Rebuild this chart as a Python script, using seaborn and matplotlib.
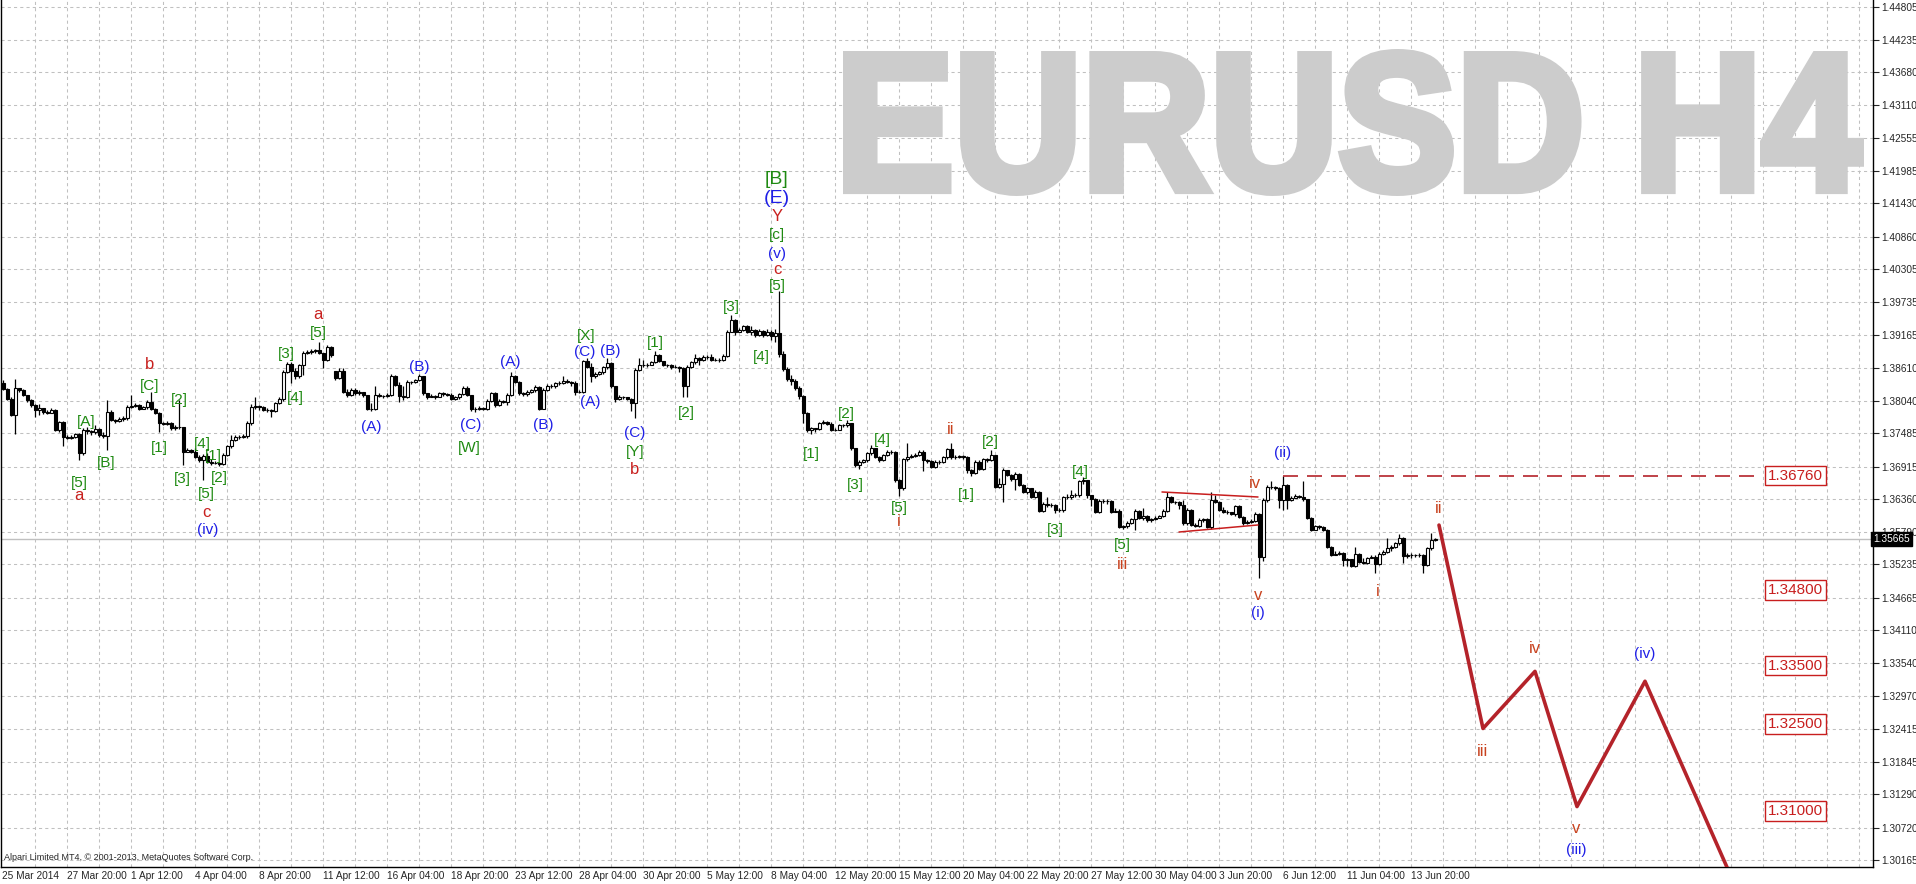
import numpy as np
import pandas as pd
import matplotlib
matplotlib.use('Agg')
import matplotlib.pyplot as plt
import seaborn as sns
from matplotlib.textpath import TextPath
from matplotlib.font_manager import FontProperties
from matplotlib.patches import PathPatch
from matplotlib.transforms import Affine2D, IdentityTransform

# EURUSD H4 bars, prices in pips (1.3824 -> 13824); bar 0 = 25 Mar 2014 04:00
first_open = 13834
closes = [
    13824, 13808, 13780, 13826, 13823, 13814, 13806, 13797, 13788, 13792, 13785, 13784, 13789, 13754, 13768, 13743, 13741, 13742, 13747, 13714,
    13754, 13752, 13750, 13756, 13745, 13744, 13785, 13771, 13769, 13773, 13774, 13794, 13795, 13797, 13791, 13793, 13803, 13791, 13784, 13766,
    13765, 13767, 13757, 13760, 13759, 13717, 13720, 13717, 13708, 13703, 13710, 13700, 13697, 13698, 13696, 13711, 13726, 13737, 13743, 13742,
    13744, 13766, 13794, 13795, 13793, 13788, 13789, 13787, 13800, 13807, 13854, 13867, 13855, 13846, 13866, 13886, 13888, 13889, 13891, 13886,
    13874, 13897, 13883, 13843, 13856, 13820, 13814, 13823, 13817, 13819, 13814, 13791, 13790, 13814, 13813, 13812, 13814, 13847, 13831, 13812,
    13810, 13837, 13836, 13840, 13846, 13817, 13811, 13813, 13811, 13817, 13816, 13815, 13808, 13810, 13816, 13826, 13814, 13790, 13791, 13792,
    13791, 13804, 13817, 13797, 13804, 13803, 13814, 13846, 13837, 13817, 13816, 13820, 13822, 13828, 13791, 13823, 13830, 13829, 13834, 13834,
    13838, 13837, 13834, 13820, 13820, 13872, 13863, 13846, 13851, 13853, 13862, 13869, 13829, 13808, 13811, 13810, 13808, 13800, 13857, 13866,
    13865, 13866, 13870, 13883, 13872, 13866, 13865, 13862, 13863, 13861, 13829, 13863, 13870, 13877, 13874, 13880, 13879, 13874, 13875, 13874,
    13881, 13923, 13943, 13923, 13926, 13932, 13923, 13925, 13918, 13924, 13918, 13922, 13915, 13920, 13885, 13858, 13842, 13838, 13826, 13812,
    13783, 13754, 13757, 13756, 13766, 13768, 13765, 13754, 13755, 13763, 13762, 13766, 13723, 13694, 13700, 13702, 13714, 13723, 13708, 13703,
    13711, 13717, 13716, 13668, 13654, 13704, 13708, 13710, 13711, 13717, 13702, 13701, 13691, 13700, 13699, 13707, 13721, 13707, 13708, 13709,
    13708, 13686, 13680, 13700, 13687, 13704, 13703, 13711, 13657, 13661, 13686, 13677, 13670, 13679, 13660, 13648, 13654, 13640, 13648, 13616,
    13627, 13625, 13626, 13617, 13617, 13639, 13640, 13643, 13642, 13666, 13668, 13642, 13635, 13614, 13633, 13632, 13633, 13614, 13616, 13588,
    13589, 13595, 13601, 13616, 13604, 13607, 13599, 13601, 13604, 13607, 13616, 13640, 13631, 13630, 13625, 13594, 13617, 13591, 13590, 13600,
    13601, 13588, 13634, 13631, 13617, 13614, 13613, 13610, 13623, 13605, 13594, 13597, 13598, 13610, 13537, 13634, 13657, 13656, 13655, 13634,
    13660, 13634, 13638, 13641, 13640, 13636, 13604, 13583, 13589, 13588, 13583, 13554, 13540, 13542, 13543, 13531, 13532, 13521, 13541, 13528,
    13526, 13535, 13537, 13524, 13542, 13545, 13551, 13554, 13560, 13568, 13538, 13540, 13540, 13539, 13540, 13522, 13551, 13566, 13566.5,
]
highs = [
    13840, 13826, 13810, 13842, 13827, 13825, 13815, 13807, 13798, 13798, 13790, 13788, 13792, 13791, 13770, 13770, 13745, 13745, 13749, 13749,
    13757, 13760, 13755, 13762, 13758, 13750, 13806, 13788, 13773, 13776, 13778, 13797, 13814, 13800, 13798, 13796, 13806, 13820, 13792, 13785,
    13768, 13769, 13768, 13763, 13806, 13760, 13723, 13721, 13723, 13712, 13713, 13714, 13705, 13701, 13699, 13714, 13729, 13746, 13746, 13745,
    13747, 13769, 13798, 13810, 13797, 13795, 13792, 13791, 13803, 13810, 13857, 13871, 13870, 13860, 13868, 13889, 13892, 13893, 13894, 13906,
    13887, 13900, 13899, 13856, 13860, 13860, 13824, 13826, 13827, 13822, 13818, 13815, 13800, 13829, 13817, 13815, 13817, 13850, 13849, 13836,
    13830, 13840, 13839, 13842, 13851, 13847, 13818, 13816, 13814, 13819, 13819, 13818, 13817, 13813, 13818, 13829, 13829, 13815, 13794, 13795,
    13794, 13807, 13820, 13819, 13807, 13806, 13817, 13853, 13848, 13839, 13819, 13822, 13825, 13831, 13830, 13826, 13833, 13833, 13837, 13838,
    13846, 13841, 13838, 13838, 13823, 13875, 13877, 13869, 13854, 13856, 13864, 13877, 13870, 13830, 13814, 13813, 13811, 13809, 13860, 13877,
    13874, 13869, 13873, 13889, 13885, 13873, 13868, 13868, 13866, 13864, 13863, 13866, 13873, 13885, 13879, 13883, 13883, 13884, 13878, 13877,
    13884, 13926, 13952, 13944, 13929, 13935, 13934, 13932, 13928, 13928, 13926, 13927, 13925, 13927, 13993, 13890, 13862, 13848, 13842, 13830,
    13815, 13785, 13760, 13758, 13768, 13772, 13770, 13768, 13758, 13765, 13765, 13772, 13767, 13724, 13703, 13705, 13717, 13728, 13724, 13710,
    13713, 13719, 13720, 13718, 13670, 13706, 13731, 13713, 13714, 13719, 13719, 13704, 13703, 13702, 13703, 13710, 13724, 13731, 13711, 13712,
    13711, 13710, 13688, 13702, 13702, 13706, 13706, 13720, 13712, 13671, 13689, 13686, 13678, 13682, 13681, 13661, 13656, 13655, 13651, 13650,
    13630, 13640, 13629, 13627, 13620, 13641, 13644, 13651, 13646, 13669, 13674, 13669, 13643, 13637, 13635, 13635, 13636, 13634, 13620, 13618,
    13592, 13598, 13604, 13619, 13617, 13621, 13608, 13604, 13607, 13609, 13619, 13648, 13641, 13633, 13632, 13634, 13620, 13618, 13594, 13603,
    13604, 13603, 13648, 13643, 13632, 13622, 13617, 13614, 13626, 13626, 13606, 13600, 13601, 13613, 13612, 13637, 13660, 13666, 13658, 13656,
    13676, 13662, 13641, 13644, 13643, 13667, 13636, 13605, 13592, 13591, 13590, 13585, 13555, 13546, 13547, 13545, 13535, 13533, 13554, 13543,
    13534, 13537, 13540, 13540, 13545, 13548, 13568, 13557, 13562, 13576, 13570, 13543, 13543, 13542, 13543, 13542, 13554, 13577, 13568,
]
lows = [
    13822, 13806, 13778, 13747, 13820, 13812, 13803, 13794, 13777, 13780, 13782, 13781, 13784, 13752, 13750, 13726, 13738, 13739, 13740, 13703,
    13712, 13748, 13746, 13748, 13743, 13740, 13720, 13769, 13766, 13768, 13770, 13772, 13792, 13793, 13789, 13790, 13791, 13789, 13781, 13751,
    13762, 13763, 13755, 13755, 13756, 13694, 13716, 13714, 13706, 13700, 13668, 13697, 13694, 13695, 13693, 13694, 13709, 13724, 13735, 13738,
    13740, 13740, 13763, 13790, 13789, 13786, 13785, 13777, 13785, 13798, 13804, 13852, 13834, 13842, 13844, 13849, 13884, 13885, 13886, 13884,
    13860, 13872, 13880, 13840, 13842, 13817, 13811, 13812, 13815, 13815, 13811, 13788, 13786, 13788, 13810, 13809, 13810, 13812, 13829, 13803,
    13805, 13809, 13833, 13835, 13838, 13815, 13808, 13810, 13808, 13810, 13813, 13812, 13806, 13806, 13807, 13814, 13812, 13787, 13785, 13789,
    13788, 13789, 13802, 13794, 13796, 13800, 13797, 13812, 13835, 13814, 13812, 13813, 13818, 13819, 13789, 13790, 13821, 13826, 13827, 13831,
    13833, 13834, 13830, 13814, 13817, 13818, 13860, 13837, 13843, 13848, 13851, 13859, 13826, 13803, 13806, 13807, 13805, 13786, 13774, 13855,
    13862, 13863, 13866, 13869, 13870, 13864, 13862, 13859, 13860, 13854, 13811, 13811, 13861, 13868, 13866, 13872, 13876, 13872, 13872, 13871,
    13872, 13879, 13922, 13917, 13922, 13924, 13920, 13918, 13914, 13915, 13913, 13915, 13908, 13905, 13880, 13855, 13838, 13832, 13822, 13808,
    13766, 13751, 13748, 13750, 13754, 13764, 13762, 13752, 13752, 13754, 13759, 13759, 13720, 13691, 13687, 13698, 13699, 13712, 13706, 13700,
    13701, 13710, 13713, 13665, 13641, 13652, 13701, 13706, 13708, 13709, 13684, 13698, 13689, 13689, 13696, 13698, 13704, 13705, 13705, 13706,
    13705, 13680, 13676, 13678, 13685, 13686, 13700, 13701, 13655, 13655, 13631, 13675, 13667, 13651, 13658, 13646, 13645, 13638, 13638, 13614,
    13614, 13622, 13622, 13611, 13613, 13614, 13636, 13636, 13639, 13640, 13662, 13638, 13623, 13612, 13612, 13629, 13628, 13612, 13613, 13586,
    13585, 13586, 13593, 13583, 13602, 13600, 13597, 13597, 13599, 13603, 13605, 13614, 13629, 13627, 13618, 13592, 13592, 13589, 13587, 13588,
    13597, 13586, 13585, 13629, 13615, 13612, 13610, 13608, 13607, 13603, 13592, 13593, 13595, 13596, 13500, 13530, 13630, 13653, 13652, 13620,
    13617, 13618, 13633, 13637, 13637, 13633, 13602, 13581, 13582, 13585, 13581, 13552, 13538, 13539, 13540, 13521, 13520, 13519, 13519, 13526,
    13524, 13525, 13534, 13508, 13522, 13540, 13543, 13547, 13551, 13556, 13526, 13535, 13535, 13537, 13537, 13509, 13520, 13549, 13564,
]
gap_opens = {83: 13855}  # Monday 14 Apr gap

first_date = '25 Mar 2014'
date_labels = ['27 Mar 20:00', '1 Apr 12:00', '4 Apr 04:00', '8 Apr 20:00', '11 Apr 12:00', '16 Apr 04:00',
               '18 Apr 20:00', '23 Apr 12:00', '28 Apr 04:00', '30 Apr 20:00', '5 May 12:00', '8 May 04:00',
               '12 May 20:00', '15 May 12:00', '20 May 04:00', '22 May 20:00', '27 May 12:00', '30 May 04:00',
               '3 Jun 20:00', '6 Jun 12:00', '11 Jun 04:00', '13 Jun 20:00']
price_ticks = [1.44805, 1.44235, 1.43680, 1.43110, 1.42555, 1.41985, 1.41430, 1.40860, 1.40305, 1.39735,
               1.39165, 1.38610, 1.38040, 1.37485, 1.36915, 1.36360, 1.35790, 1.35235, 1.34665, 1.34110,
               1.33540, 1.32970, 1.32415, 1.31845, 1.31290, 1.30720, 1.30165]
last_price = 1.35665
level_prices = [1.36760, 1.34800, 1.33500, 1.32500, 1.31000]

# projected wave path (ii -> iii -> iv -> v -> (iv) -> down)
proj_bars = [359, 370, 383, 393.5, 410.5, 436]
proj_prices = [1.3591, 1.3242, 1.3340, 1.3108, 1.3323, 1.2926]

# triangle lines
tri_upper_bars, tri_upper_prices = [289.75, 313.75], [1.36478, 1.36392]
tri_lower_bars, tri_lower_prices = [294, 313.75], [1.35791, 1.35912]

# wave labels
lbl_text = ['[5]', 'a', '[A]', '[B]', 'b', '[C]', '[1]', '[2]', '[3]', '[4]', '[1]', '[2]', '[5]', 'c', '(iv)',
            '[3]', '[4]', '[5]', 'a', '(A)', '(B)', '(C)', '[W]', '(A)', '(B)', '[X]', '(C)', '(A)', '(B)',
            '(C)', '[Y]', 'b', '[1]', '[2]', '[3]', '[4]',
            '[B]', '(E)', 'Y', '[c]', '(v)', 'c', '[5]',
            '[1]', '[2]', '[3]', '[4]', '[5]', 'i', 'ii', '[2]', '[1]', '[3]', '[4]', '[5]', 'iii',
            'iv', 'v', '(i)', '(ii)', 'i', 'ii',
            'iii', 'iv', 'v', '(iii)', '(iv)']
lbl_bar = [19, 19, 20.9, 25.9, 36.75, 36.75, 39, 44, 44.9, 49.8, 52.6, 54, 50.9, 50.9, 51.1,
           70.9, 73, 78.8, 78.8, 92, 104, 117, 116.6, 126.9, 135, 145.9, 145.5, 146.75, 151.9,
           158, 158, 157.8, 163, 170.9, 182.2, 189.6,
           193.5, 193.5, 193.5, 193.5, 193.5, 193.5, 193.5,
           202, 210.9, 213, 219.9, 224, 224, 237, 246.9, 240.9, 263, 269.25, 279.9, 279.9,
           313, 313.8, 313.8, 320, 343.8, 358.8,
           369.8, 383, 393.3, 393.3, 410.5]
lbl_price = [1.36637, 1.36426, 1.37684, 1.36980, 1.38657, 1.38297, 1.37228, 1.38056, 1.36700, 1.37300, 1.37090,
             1.36723, 1.36443, 1.36130, 1.35826,
             1.38840, 1.38096, 1.39201, 1.39515, 1.37588, 1.38628, 1.37627, 1.37240, 1.38714, 1.37627, 1.39155,
             1.38885, 1.38028, 1.38903,
             1.37485, 1.37170, 1.36864, 1.39040, 1.37839, 1.39658, 1.38800,
             1.41840, 1.41510, 1.41200, 1.40890, 1.40560, 1.40300, 1.40020,
             1.37130, 1.37816, 1.36598, 1.37370, 1.36198, 1.35963, 1.37554, 1.37340, 1.36426, 1.35826, 1.36826,
             1.35568, 1.35237,
             1.36627, 1.34710, 1.34396, 1.37142, 1.34767, 1.36198,
             1.32020, 1.33800, 1.30700, 1.30340, 1.33690]
lbl_kind = ['g', 'r', 'g', 'g', 'r', 'g', 'g', 'g', 'g', 'g', 'g', 'g', 'g', 'r', 'b',
            'g', 'g', 'g', 'r', 'b', 'b', 'b', 'g', 'b', 'b', 'g', 'b', 'b', 'b',
            'b', 'g', 'r', 'g', 'g', 'g', 'g',
            'G', 'B', 'r', 'g', 'b', 'r', 'g',
            'g', 'g', 'g', 'g', 'g', 'o', 'o', 'g', 'g', 'g', 'g', 'g', 'o',
            'o', 'o', 'b', 'b', 'o', 'o',
            'o', 'o', 'o', 'b', 'b']

kind_style = {
    'g': ('#1f8a12', 11), 'G': ('#1f8a12', 14),
    'r': ('#c8201e', 12), 'o': ('#c8421e', 12),
    'b': ('#1f1fe6', 11), 'B': ('#1f1fe6', 14),
}

sns.set_style('white')
plt.rcParams['font.family'] = ['Liberation Sans', 'DejaVu Sans']

W, H = 1916, 884
fig = plt.figure(figsize=(W / 100, H / 100), dpi=100)
ax = fig.add_axes([1 / W, 17 / H, 1872 / W, 867 / H])

# candles
opens = [first_open] + closes[:-1]
for k, v in gap_opens.items():
    opens[k] = v
df = pd.DataFrame({'open': opens, 'high': highs, 'low': lows, 'close': closes}) / 10000.0
df['bar'] = np.arange(len(df))
up = df['close'] >= df['open']
body_b = df[['open', 'close']].min(axis=1)
body_h = (df['close'] - df['open']).abs().clip(lower=0.00002)

ax.vlines(df['bar'], df['low'], df['high'], color='black', lw=0.9, zorder=3)
ax.bar(df['bar'][up], body_h[up], bottom=body_b[up], width=0.75,
       color='white', edgecolor='black', lw=0.8, zorder=4)
ax.bar(df['bar'][~up], body_h[~up], bottom=body_b[~up], width=0.75,
       color='black', edgecolor='black', lw=0.8, zorder=4)

# current price line
ax.axhline(last_price, color='#c0c0c0', lw=1.0, zorder=2)

# triangle and projection
ax.plot(tri_upper_bars, tri_upper_prices, color='#c81e1e', lw=1.1, zorder=5)
ax.plot(tri_lower_bars, tri_lower_prices, color='#c81e1e', lw=1.1, zorder=5)
ax.plot([320, 439.75], [level_prices[0], level_prices[0]], color='#b4232a', lw=1.2,
        ls=(0, (9, 5.4)), zorder=5)
sns.lineplot(x=proj_bars, y=proj_prices, color='#b4232a', lw=2.6, ax=ax, zorder=6)

# level boxes
for p in level_prices:
    ax.text(441.3, p, f'{p:.5f}', color='#c81e1e', fontsize=11, ha='left', va='center', zorder=7,
            bbox=dict(boxstyle='square,pad=0.18', fc='white', ec='#c81e1e', lw=1.0))

# wave labels
for t, b, p, k in zip(lbl_text, lbl_bar, lbl_price, lbl_kind):
    c, s = kind_style[k]
    ax.text(b, p, t, color=c, fontsize=s, ha='center', va='center', zorder=8)

# watermark, heavy grey letters
fp = FontProperties(family='Liberation Sans', weight='bold')
tp = TextPath((0, 0), 'EURUSD H4', size=100, prop=fp)
ext = tp.get_extents()
grow = 4.5
x0, x1, ytop, ybot = 843 + grow, 1864 - grow, 49 + grow, 196 - grow
tr = Affine2D().translate(-ext.x0, -ext.y0).scale((x1 - x0) / ext.width, (ybot - ytop) / ext.height) \
    .translate(x0, H - ybot)
wm = PathPatch(tr.transform_path(tp), fc='#cccccc', ec='#cccccc', lw=grow * 2 * 0.72,
               joinstyle='miter', transform=IdentityTransform(), zorder=1)
ax.add_artist(wm)

# axes
ax.set_xlim(-0.5, 467.5)
ax.set_ylim(1.30043, 1.44920)
ax.yaxis.tick_right()
ax.set_yticks(price_ticks)
ax.set_yticklabels([f'{v:.5f}' for v in price_ticks])
maj = [16 * (k + 1) for k in range(len(date_labels))]
ax.set_xticks(maj)
ax.set_xticklabels(date_labels)
ax.set_xticks([8 * k for k in range(1, 59) if 8 * k not in maj], minor=True)
for lab in ax.get_xticklabels():
    lab.set_ha('left')
ax.tick_params(axis='y', which='major', direction='out', length=4, width=0.8, labelsize=7.3, pad=2,
               right=True, left=False, labelright=True, labelleft=False)
ax.tick_params(axis='x', which='major', direction='out', length=2, width=0.8, labelsize=7.3, pad=1)
ax.tick_params(axis='x', which='minor', length=0)
ax.grid(True, which='both', color='#c0c0c0', lw=0.75, ls=(0, (3, 3)))
ax.set_axisbelow(True)
for side in ['left', 'bottom', 'right']:
    ax.spines[side].set_color('black')
    ax.spines[side].set_linewidth(1.0)
ax.spines['top'].set_visible(False)
ax.set_xlabel('')
ax.set_ylabel('')

ax.annotate(first_date, xy=(-0.5, 0), xycoords=('data', 'axes fraction'), xytext=(1, -3),
            textcoords='offset points', fontsize=7.3, ha='left', va='top', annotation_clip=False)
ax.text(1.0, last_price, f'{last_price:.5f}', transform=ax.get_yaxis_transform(), color='white',
        fontsize=7.3, ha='left', va='center', zorder=9, clip_on=False,
        bbox=dict(boxstyle='square,pad=0.2', fc='black', ec='black'))
fig.text(4 / W, 1 - 858 / H, 'Alpari Limited MT4, \u00a9 2001-2013, MetaQuotes Software Corp.', fontsize=6.5,
         ha='left', va='center')

fig.savefig('out.png', dpi=100)
